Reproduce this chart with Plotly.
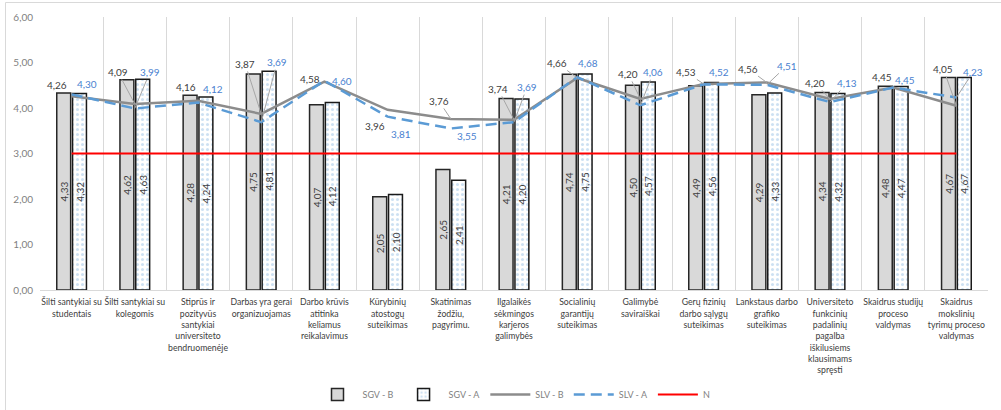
import plotly.graph_objects as go

# Survey categories (wrapped as they appear under the axis)
categories = [
    "Šilti santykiai su<br>studentais",
    "Šilti santykiai su<br>kolegomis",
    "Stiprūs ir<br>pozityvūs<br>santykiai<br>universiteto<br>bendruomenėje",
    "Darbas yra gerai<br>organizuojamas",
    "Darbo krūvis<br>atitinka<br>keliamus<br>reikalavimus",
    "Kūrybinių<br>atostogų<br>suteikimas",
    "Skatinimas<br>žodžiu,<br>pagyrimu.",
    "Ilgalaikės<br>sėkmingos<br>karjeros<br>galimybės",
    "Socialinių<br>garantijų<br>suteikimas",
    "Galimybė<br>saviraiškai",
    "Gerų fizinių<br>darbo sąlygų<br>suteikimas",
    "Lankstaus darbo<br>grafiko<br>suteikimas",
    "Universiteto<br>funkcinių<br>padalinių<br>pagalba<br>iškilusiems<br>klausimams<br>spręsti",
    "Skaidrus studijų<br>proceso<br>valdymas",
    "Skaidrus<br>mokslinių<br>tyrimų proceso<br>valdymas",
]

sgv_b = [4.33, 4.62, 4.28, 4.75, 4.07, 2.05, 2.65, 4.21, 4.74, 4.50, 4.49, 4.29, 4.34, 4.48, 4.67]
sgv_a = [4.32, 4.63, 4.24, 4.81, 4.12, 2.10, 2.41, 4.20, 4.75, 4.57, 4.56, 4.33, 4.32, 4.47, 4.67]
slv_b = [4.26, 4.09, 4.16, 3.87, 4.58, 3.96, 3.76, 3.74, 4.66, 4.20, 4.53, 4.56, 4.20, 4.45, 4.05]
slv_a = [4.30, 3.99, 4.12, 3.69, 4.60, 3.81, 3.55, 3.69, 4.68, 4.06, 4.52, 4.51, 4.13, 4.45, 4.23]
norm = [3.00] * len(categories)

y_ticks = [0, 1, 2, 3, 4, 5, 6]

# Label placement (pixel offsets of each line label from its point)
slv_b_offsets = [(-15, -11), (-17, -32), (-12, -14), (-16, -50), (-14, -3), (-13, 16),
                 (-12, -18), (-16, -31), (-20, -15), (-12, -25), (-18, -12), (-19, -14),
                 (-15, -16), (-11, -11), (-13, -37)]
slv_a_offsets = [(15, -10), (15, -36), (15, -14), (16, -60), (18, 0), (13, 17),
                 (16, 8), (13, -35), (11, -14), (13, -33), (15, -12), (20, -19),
                 (17, -19), (12, -8), (17, -26)]

FONT = "Lato, 'Open Sans', sans-serif"
GRAY_TXT = "#404040"
BLUE_TXT = "#4a7fd0"

fig = go.Figure()

fig.add_trace(go.Bar(
    name="SGV - B", x=categories, y=sgv_b,
    marker=dict(color="#d9d9d9", line=dict(color="#262626", width=1.5)),
    texttemplate="%{y:.2f}", textposition="inside", textangle=-90,
    insidetextanchor="middle", constraintext="none",
    textfont=dict(size=10, color=GRAY_TXT, family=FONT),
))
fig.add_trace(go.Bar(
    name="SGV - A", x=categories, y=sgv_a,
    marker=dict(color="white", line=dict(color="#1a1a1a", width=1.5),
                pattern=dict(shape=".", fgcolor="#9dc3e6", bgcolor="white",
                             size=5, solidity=0.3)),
    texttemplate="%{y:.2f}", textposition="inside", textangle=-90,
    insidetextanchor="middle", constraintext="none",
    textfont=dict(size=10, color=GRAY_TXT, family=FONT),
))
fig.add_trace(go.Scatter(
    name="SLV - B", x=categories, y=slv_b, mode="lines",
    line=dict(color="#8c8c8c", width=2.5),
))
fig.add_trace(go.Scatter(
    name="SLV - A", x=categories, y=slv_a, mode="lines",
    line=dict(color="#5b9bd5", width=2.5, dash="11px,6px"),
))
fig.add_trace(go.Scatter(
    name="N", x=categories, y=norm, mode="lines",
    line=dict(color="#ff0000", width=2),
))

def fmt(v):
    return f"{v:.2f}".replace(".", ",")

annotations = []
for series, offsets, color in ((slv_b, slv_b_offsets, GRAY_TXT), (slv_a, slv_a_offsets, BLUE_TXT)):
    for cat, val, (dx, dy) in zip(categories, series, offsets):
        leader = (dx * dx + dy * dy) ** 0.5 > 21
        annotations.append(dict(
            x=cat, y=val, text=fmt(val), showarrow=True, arrowhead=0,
            arrowwidth=1, arrowcolor="#a6a6a6" if leader else "rgba(0,0,0,0)",
            ax=dx, ay=dy, font=dict(size=10, color=color, family=FONT),
        ))

# outer chart frame
plot_w = 1001 - 40 - 13
plot_h = 410 - 17 - 120
shapes = [dict(
    type="rect", xref="paper", yref="paper",
    x0=(5.5 - 40) / plot_w, x1=(1005 - 40) / plot_w,
    y0=(290 - 415) / plot_h, y1=(290 - 2.5) / plot_h,
    line=dict(color="#d9d9d9", width=1), fillcolor="rgba(0,0,0,0)", layer="below",
)]

fig.update_layout(
    width=1001, height=410,
    margin=dict(l=40, r=13, t=17, b=120, autoexpand=False),
    paper_bgcolor="white", plot_bgcolor="white",
    separators=", ",
    barmode="group", bargap=0.5, bargroupgap=0.12,
    font=dict(family=FONT, size=10, color=GRAY_TXT),
    annotations=annotations, shapes=shapes,
    showlegend=True,
    legend=dict(orientation="h", x=0.5, xanchor="center", y=-0.33, yanchor="top",
                font=dict(size=9, color="#7f7f7f"), itemwidth=40,
                traceorder="normal"),
    xaxis=dict(
        type="category", tickson="boundaries", showgrid=True, gridcolor="#d9d9d9",
        gridwidth=1, ticks="", showline=True, linecolor="#d9d9d9",
        tickfont=dict(size=8.7, color=GRAY_TXT, family=FONT), tickangle=0,
        ticklabelstandoff=4, automargin=False,
    ),
    yaxis=dict(
        range=[0, 6], tickvals=y_ticks, tickformat=".2f", showgrid=False,
        zeroline=False, showline=False, ticks="",
        tickfont=dict(size=10, color="#7f7f7f", family=FONT),
        ticklabelstandoff=6, automargin=False,
    ),
)

fig.write_html("out.html")
